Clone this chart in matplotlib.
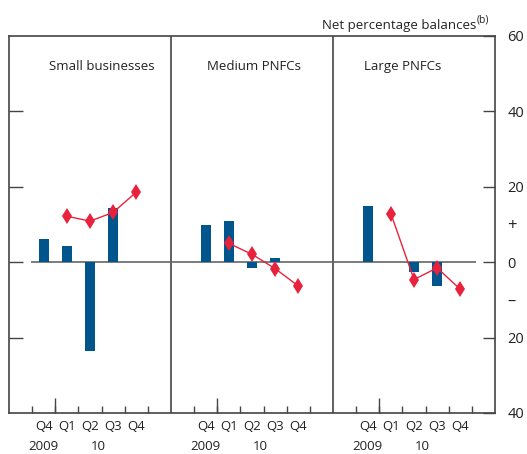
import numpy as np
import matplotlib
matplotlib.use("Agg")
import matplotlib.pyplot as plt
import matplotlib.transforms as mtransforms

plt.rcParams['font.family'] = ['Open Sans', 'DejaVu Sans']

panels = ["Small businesses", "Medium PNFCs", "Large PNFCs"]
quarters = ["Q4", "Q1", "Q2", "Q3", "Q4"]
years = ["2009", "10"]

# bars: Q4 2009 .. Q3 2010 (blue), diamonds: Q1 2010 .. Q4 2010 (red)
bars_small = [6.1, 4.2, -23.5, 14.4]
bars_medium = [9.8, 10.9, -1.5, 1.0]
bars_large = [14.8, 0.0, -2.6, -6.4]
exp_small = [12.2, 10.9, 13.2, 18.6]
exp_medium = [5.0, 2.1, -1.7, -6.3]
exp_large = [12.9, -4.6, -1.5, -7.2]

bars = [bars_small, bars_medium, bars_large]
exps = [exp_small, exp_medium, exp_large]
title_x = [4.0, 10.6, 17.0]

blue = "#00558c"
red = "#e8223c"
axcol = "#444444"
txtcol = "#222222"

fig = plt.figure(figsize=(5.27, 4.54), dpi=100)
ax = fig.add_axes([9 / 527, 1 - 413 / 454, 486 / 527, 377 / 454])
ax.set_xlim(0, 21)
ax.set_ylim(-40, 60)
trans = mtransforms.blended_transform_factory(ax.transData, ax.transAxes)

for p in range(3):
    base = 7 * p + 1.5
    xb = base + np.arange(4)
    ax.bar(xb, bars[p], width=0.43, color=blue, zorder=3)
    xe = base + 1 + np.arange(4)
    ax.plot(xe, exps[p], color=red, lw=1.0, marker="d", ms=8, mew=0,
            zorder=4)
    ax.text(title_x[p], 0.92, panels[p], transform=trans,
            ha="center", va="center", fontsize=9.5, color=txtcol)

ax.hlines(0, 0.95, 20.2, color="#666666", lw=1.2, zorder=2)
for xd in [7, 14]:
    ax.axvline(xd, color=axcol, lw=1.2, zorder=1)

for s in ax.spines.values():
    s.set_color(axcol)
    s.set_linewidth(1.2)

# x ticks: labels at quarter centres, small ticks at boundaries
centres = [7 * p + 1.5 + q for p in range(3) for q in range(5)]
ax.set_xticks(centres, quarters * 3)
ax.tick_params(axis="x", which="major", length=0, pad=5, labelsize=9.5, colors=txtcol)
bounds = [7 * p + k for p in range(3) for k in range(1, 7)]
ax.set_xticks(bounds, minor=True)
ax.tick_params(axis="x", which="minor", direction="in", length=5, width=1.0, color=axcol)
sec = ax.secondary_xaxis("bottom")
sec.set_xticks([7 * p + 2 for p in range(3)], ["", "", ""])
sec.tick_params(direction="in", length=11, width=1.0, color=axcol)
sec.spines["bottom"].set_visible(False)

for p in range(3):
    ax.text(7 * p + 1.5, -0.088, years[0], transform=trans, ha="center", va="center", fontsize=9.5, color=txtcol)
    ax.text(7 * p + 3.85, -0.088, years[1], transform=trans, ha="center", va="center", fontsize=9.5, color=txtcol)

# left ticks
ax.set_yticks([40, 20, 0, -20])
ax.tick_params(axis="y", direction="in", length=10, width=1.0, color=axcol, labelleft=False)

# right axis
ax2 = ax.twinx()
ax2.set_ylim(-40, 60)
ax2.set_yticks([60, 40, 20, 0, -20, -40], ["60", "40", "20", "0", "20", "40"])
ax2.tick_params(axis="y", direction="in", length=8.5, width=1.0, color=axcol, pad=9, labelsize=10.5, labelcolor=txtcol)
ax2.set_yticks([10, -10], ["+", "\u2013"], minor=True)
ax2.tick_params(axis="y", which="minor", length=0, pad=9, labelsize=12, labelcolor=txtcol)
for s in ax2.spines.values():
    s.set_visible(False)

fig.text(476 / 527, 1 - 25 / 454, "Net percentage balances", ha="right", va="center", fontsize=9.5, color=txtcol)
fig.text(477 / 527, 1 - 20 / 454, "(b)", ha="left", va="center", fontsize=7.5, color=txtcol)

fig.savefig("out.png", dpi=100)
